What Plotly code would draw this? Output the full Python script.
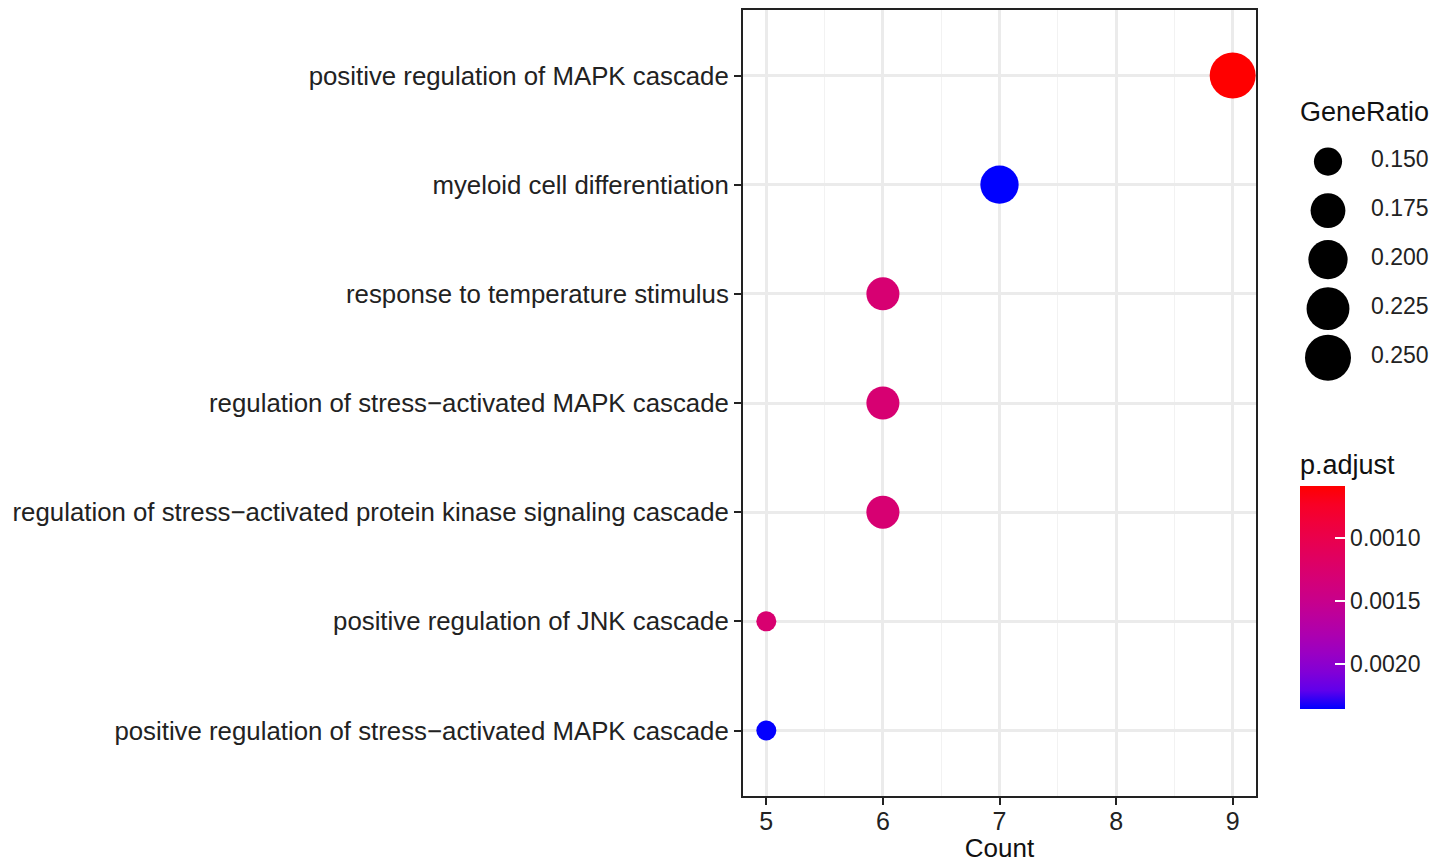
import math
import plotly.graph_objects as go

# ---------------- data ----------------
terms = [
    "positive regulation of MAPK cascade",
    "myeloid cell differentiation",
    "response to temperature stimulus",
    "regulation of stress\u2212activated MAPK cascade",
    "regulation of stress\u2212activated protein kinase signaling cascade",
    "positive regulation of JNK cascade",
    "positive regulation of stress\u2212activated MAPK cascade",
]
counts = [9, 7, 6, 6, 6, 5, 5]
gene_ratio = [0.250, 0.194, 0.167, 0.167, 0.167, 0.139, 0.139]
p_adjust = [0.000590, 0.002360, 0.001300, 0.001300, 0.001300, 0.001280, 0.002355]

x_ticks = [5, 6, 7, 8, 9]
size_legend_vals = [0.150, 0.175, 0.200, 0.225, 0.250]
size_legend_labels = ["0.150", "0.175", "0.200", "0.225", "0.250"]
cbar_ticks = [0.0010, 0.0015, 0.0020]
cbar_labels = ["0.0010", "0.0015", "0.0020"]

# ---------------- helpers ----------------
FONT = "Liberation Sans, Arial, sans-serif"
OFF = 8  # page body offset
W, H = 1450 - OFF, 863 - OFF
ML, MR, MT, MB = 743 - OFF, 0, 8 - OFF, 67
PW = W - ML - MR
PH = H - MT - MB
main_right_px = 1256 - OFF
dom_x_main = (main_right_px - ML) / PW


def px_x(px):
    return (px - OFF - ML) / PW


def px_y(py):
    return (H - MB - (py - OFF)) / PH


rmin, rmax = min(gene_ratio), max(gene_ratio)


def size_of(r):
    t = max(0.0, (r - rmin) / (rmax - rmin))
    return 20 + 26 * math.sqrt(t)


# Lab interpolation red -> blue (like ggplot gradient)
def srgb_to_lin(c):
    c = c / 255
    return c / 12.92 if c <= 0.04045 else ((c + 0.055) / 1.055) ** 2.4


def lin_to_srgb(c):
    c = max(0.0, min(1.0, c))
    v = 12.92 * c if c <= 0.0031308 else 1.055 * c ** (1 / 2.4) - 0.055
    return int(round(max(0, min(1, v)) * 255))


def rgb_to_lab(rgb):
    r, g, b = [srgb_to_lin(c) for c in rgb]
    X = 0.4124 * r + 0.3576 * g + 0.1805 * b
    Y = 0.2126 * r + 0.7152 * g + 0.0722 * b
    Z = 0.0193 * r + 0.1192 * g + 0.9505 * b
    Xn, Yn, Zn = 0.95047, 1.0, 1.08883

    def f(t):
        return t ** (1 / 3) if t > 0.008856 else 7.787 * t + 16 / 116

    fx, fy, fz = f(X / Xn), f(Y / Yn), f(Z / Zn)
    return (116 * fy - 16, 500 * (fx - fy), 200 * (fy - fz))


def lab_to_rgb(lab):
    L, a, b = lab
    fy = (L + 16) / 116
    fx = fy + a / 500
    fz = fy - b / 200

    def finv(t):
        return t ** 3 if t ** 3 > 0.008856 else (t - 16 / 116) / 7.787

    X, Y, Z = 0.95047 * finv(fx), finv(fy), 1.08883 * finv(fz)
    r = 3.2406 * X - 1.5372 * Y - 0.4986 * Z
    g = -0.9689 * X + 1.8758 * Y + 0.0415 * Z
    bb = 0.0557 * X - 0.2040 * Y + 1.0570 * Z
    return (lin_to_srgb(r), lin_to_srgb(g), lin_to_srgb(bb))


lab_blue = rgb_to_lab((0, 0, 255))
lab_red = rgb_to_lab((255, 0, 0))
colorscale = []
N = 12
for i in range(N + 1):
    t = i / N
    lab = tuple(lab_blue[k] + (lab_red[k] - lab_blue[k]) * t for k in range(3))
    r, g, b = lab_to_rgb(lab)
    colorscale.append([t, f"rgb({r},{g},{b})"])

neg_p = [-p for p in p_adjust]

# ---------------- figure ----------------
fig = go.Figure()

CB_TITLE_SPACE = 35
fig.add_trace(go.Scatter(
    x=counts, y=terms, mode="markers",
    marker=dict(
        size=[size_of(r) for r in gene_ratio],
        color=neg_p, colorscale=colorscale,
        cmin=min(neg_p), cmax=max(neg_p),
        line=dict(width=0),
        opacity=1,
        colorbar=dict(
            title=dict(text="p.adjust", side="top",
                       font=dict(family=FONT, size=27, color="#111")),
            x=px_x(1300), xanchor="left", xpad=0,
            y=px_y(485 - CB_TITLE_SPACE), yanchor="top", ypad=0,
            lenmode="pixels", len=223 + CB_TITLE_SPACE,
            thicknessmode="pixels", thickness=45,
            outlinewidth=0,
            tickvals=[-v for v in cbar_ticks], ticktext=cbar_labels,
            ticks="inside", tickcolor="white", ticklen=10, tickwidth=1.5,
            tickfont=dict(family=FONT, size=23, color="#222"),
        ),
    ),
    cliponaxis=False, showlegend=False, hoverinfo="x+y",
))

# size legend (GeneRatio)
leg_idx = list(range(len(size_legend_vals)))
fig.add_trace(go.Scatter(
    x=[1328] * len(size_legend_vals), y=leg_idx, mode="markers",
    marker=dict(size=[size_of(v) for v in size_legend_vals], color="black",
                opacity=1, line=dict(width=0)),
    xaxis="x2", yaxis="y2", showlegend=False, hoverinfo="skip", cliponaxis=False,
))
fig.add_trace(go.Scatter(
    x=[1371] * len(size_legend_vals), y=leg_idx, mode="text",
    text=size_legend_labels, textposition="middle right",
    textfont=dict(family=FONT, size=23, color="#222"),
    xaxis="x2", yaxis="y2", showlegend=False, hoverinfo="skip", cliponaxis=False,
))

fig.add_annotation(
    text="GeneRatio", xref="paper", yref="paper",
    x=px_x(1298), y=px_y(110), xanchor="left", yanchor="middle",
    showarrow=False, font=dict(family=FONT, size=27, color="#111"),
)

grid_major = "#EBEBEB"
fig.update_layout(
    width=W, height=H,
    margin=dict(l=ML, r=MR, t=MT, b=MB),
    paper_bgcolor="white", plot_bgcolor="white",
    font=dict(family=FONT, color="#222"),
    xaxis=dict(
        domain=[0, dom_x_main],
        range=[4.8, 9.2], tickvals=x_ticks,
        showgrid=True, gridcolor=grid_major, gridwidth=2.6,
        minor=dict(tick0=4.5, dtick=1, showgrid=True, gridcolor="#F2F2F2",
                   gridwidth=1.3, ticks=""),
        showline=True, linecolor="#222", linewidth=2, mirror=True,
        ticks="outside", ticklen=7, tickwidth=2, tickcolor="#222",
        ticklabelstandoff=-5,
        tickfont=dict(family=FONT, size=25, color="#222"),
        title=dict(text="Count", standoff=8,
                   font=dict(family=FONT, size=26, color="#111")),
        zeroline=False,
    ),
    yaxis=dict(
        domain=[0, 1],
        type="category", categoryorder="array",
        categoryarray=list(reversed(terms)),
        range=[-0.6, len(terms) - 0.4],
        showgrid=True, gridcolor=grid_major, gridwidth=2.6,
        showline=True, linecolor="#222", linewidth=2, mirror=True,
        ticks="outside", ticklen=7, tickwidth=2, tickcolor="#222",
        tickfont=dict(family=FONT, size=25.8, color="#222"),
        zeroline=False,
    ),
    xaxis2=dict(
        domain=[px_x(1290), 1.0], range=[1290, 1450], anchor="y2",
        visible=False, fixedrange=True,
    ),
    yaxis2=dict(
        domain=[px_y(386), px_y(130.5)], range=[4.6, -0.6], anchor="x2",
        visible=False, fixedrange=True,
    ),
)

fig.write_html("out.html")
